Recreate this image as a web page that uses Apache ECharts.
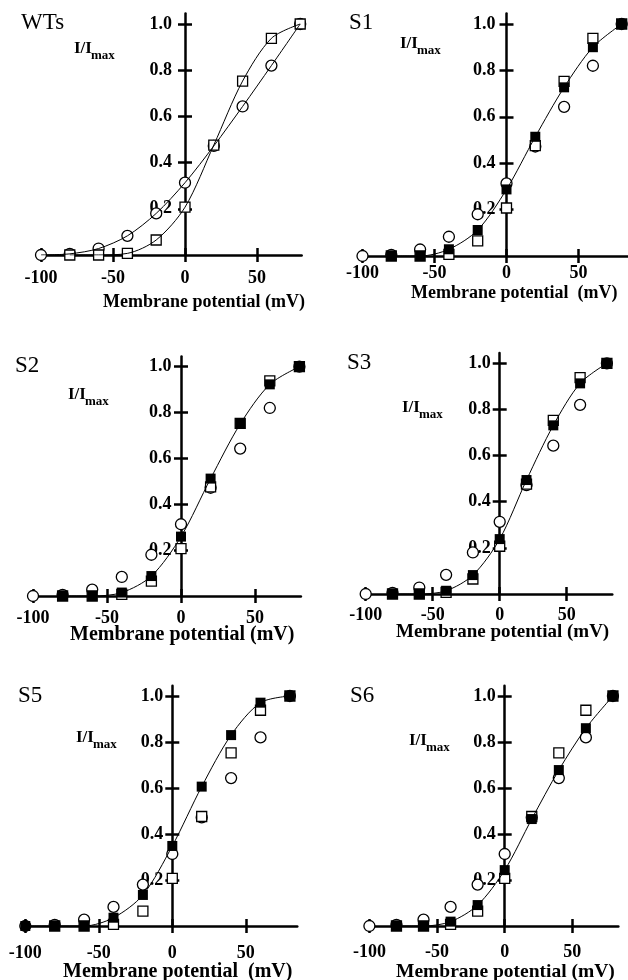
<!DOCTYPE html>
<html><head><meta charset="utf-8">
<script src="https://cdn.jsdelivr.net/npm/echarts@6/dist/echarts.min.js"></script>
<style>html,body{margin:0;padding:0;background:#fff}#c{width:628px;height:980px}</style>
</head><body><div id="c"></div>
<script>
// ---- data ----
const panelNames = ['WTs', 'S1', 'S2', 'S3', 'S5', 'S6'];
const voltages = [-100, -80, -60, -40, -20, 0, 20, 40, 60, 80];
const wtCircle = [0, 0.005, 0.028, 0.083, 0.18, 0.313, 0.472, 0.643, 0.82, 1.0];
const wtSquare = [null, 0, 0, 0.007, 0.065, 0.207, 0.476, 0.753, 0.938, 1.0];
const s1Filled = [null, 0, 0, 0.029, 0.112, 0.287, 0.514, 0.727, 0.9, 1.0];
const s2Filled = [null, 0, 0, 0.015, 0.087, 0.259, 0.512, 0.75, 0.923, 1.0];
const s3Filled = [null, 0, 0, 0.014, 0.082, 0.238, 0.494, 0.731, 0.913, 1.0];
const s5Filled = [0, 0, 0, 0.036, 0.135, 0.348, 0.606, 0.83, 0.971, 1.0];
const s6Filled = [null, 0, 0, 0.019, 0.091, 0.243, 0.465, 0.678, 0.86, 1.0];
const xTickLabels = [-100, -50, 0, 50];
const yTickLabels = [0.2, 0.4, 0.6, 0.8, 1.0];
const xTitle = 'Membrane potential (mV)';
const xTitleWide = 'Membrane potential  (mV)';

const filledByPanel = [null, s1Filled, s2Filled, s3Filled, s5Filled, s6Filled];

// ---- layout / style (positions only) ----
const layout = [
  {x0: 185,   s: 1.44,  y0: 255, y1: 24,    xmax: 81, xm: 14, ym: 13,  lab: [21, 22.5],  imax: [74, 49],   tt: [103, 302, 18, xTitle]},
  {x0: 506.5, s: 1.44,  y0: 256, y1: 24,    xmax: 84, xm: 8,  ym: 11,  lab: [349, 23],   imax: [400, 44],  tt: [411, 293, 18, xTitleWide]},
  {x0: 181,   s: 1.48,  y0: 596, y1: 366.7, xmax: 81, xm: 13, ym: 9.5, lab: [15, 366],   imax: [68, 395],  tt: [70, 635, 20, xTitle]},
  {x0: 499.7, s: 1.34,  y0: 594, y1: 363.3, xmax: 84, xm: 12, ym: 9,   lab: [347, 362.5], imax: [402, 408], tt: [396, 632, 19, xTitle]},
  {x0: 172.3, s: 1.47,  y0: 926, y1: 696,   xmax: 85, xm: 18, ym: 9,   lab: [18, 696],   imax: [76, 738],  tt: [63, 972, 20, xTitleWide]},
  {x0: 504.7, s: 1.353, y0: 926, y1: 696,   xmax: 84, xm: 17, ym: 9,   lab: [350, 696],  imax: [409, 741], tt: [396, 972, 19.5, xTitle]}
];
const XMIN = -102, YMAX = 1.045;
const FONT = '"Liberation Serif", "Times New Roman", serif';

function pairs(arr) {
  const out = [];
  voltages.forEach((v, i) => { if (arr[i] !== null) out.push([v, arr[i]]); });
  return out;
}

const grid = [], xAxis = [], yAxis = [], series = [], graphic = [];
const lineW = 2.5, tickLen = 7, tickW = 2.5;
const labelStyle = {color: '#000', fontFamily: FONT, fontWeight: 'bold', fontSize: 18};

layout.forEach((p, i) => {
  const H = p.y0 - p.y1;
  grid.push({
    left: p.x0 + XMIN * p.s, width: (p.xmax - XMIN) * p.s,
    top: p.y0 - YMAX * H, height: YMAX * H,
    containLabel: false, outerBoundsMode: 'none'
  });
  const xi = 2 * i, yi = 2 * i;
  const lineStyle = {color: '#000', width: lineW};
  const tick = {show: true, length: tickLen, lineStyle: {color: '#000', width: tickW}};
  xAxis.push({
    type: 'value', gridIndex: i, min: XMIN, max: p.xmax, position: 'bottom',
    axisLine: {show: true, onZero: false, lineStyle},
    axisTick: Object.assign({customValues: xTickLabels}, tick),
    axisLabel: Object.assign({show: true, customValues: xTickLabels, margin: p.xm}, labelStyle),
    splitLine: {show: false}
  });
  xAxis.push({
    type: 'value', gridIndex: i, min: XMIN, max: p.xmax, position: 'top',
    offset: -YMAX * H,
    axisLine: {show: false, onZero: false, lineStyle},
    axisTick: Object.assign({customValues: xTickLabels}, tick),
    axisLabel: {show: false},
    splitLine: {show: false}
  });
  yAxis.push({
    type: 'value', gridIndex: i, min: 0, max: YMAX, position: 'left',
    offset: XMIN * p.s,
    axisLine: {show: true, onZero: false, lineStyle},
    axisTick: Object.assign({customValues: yTickLabels}, tick),
    axisLabel: Object.assign({show: true, customValues: yTickLabels, margin: p.ym,
      formatter: v => v.toFixed(1)}, labelStyle),
    splitLine: {show: false}
  });
  yAxis.push({
    type: 'value', gridIndex: i, min: 0, max: YMAX, position: 'right',
    offset: -p.xmax * p.s,
    axisLine: {show: false, onZero: false, lineStyle},
    axisTick: Object.assign({customValues: yTickLabels}, tick),
    axisLabel: {show: false},
    splitLine: {show: false}
  });

  const openItem = {color: '#fff', borderColor: '#000', borderWidth: 1.3, opacity: 1};
  const curve = (arr, z) => ({type: 'line', xAxisIndex: xi, yAxisIndex: yi, data: pairs(arr),
    smooth: 0.3, showSymbol: false, lineStyle: {color: '#000', width: 1}, z});
  const filled = filledByPanel[i];
  series.push({type: 'scatter', xAxisIndex: xi, yAxisIndex: yi, data: pairs(wtCircle),
    symbol: 'circle', symbolSize: 11, itemStyle: openItem, z: 3});
  series.push({type: 'scatter', xAxisIndex: xi, yAxisIndex: yi, data: pairs(wtSquare),
    symbol: 'rect', symbolSize: 10, itemStyle: openItem, z: 4});
  if (filled === null) {
    series.push(curve(wtCircle, 6));
    series.push(curve(wtSquare, 6));
  } else {
    series.push({type: 'scatter', xAxisIndex: xi, yAxisIndex: yi, data: pairs(filled),
      symbol: 'rect', symbolSize: 10, itemStyle: {color: '#000', opacity: 1}, z: 5});
    series.push(curve(filled, 6));
  }

  graphic.push({type: 'text', x: p.lab[0], y: p.lab[1], z: 10,
    style: {text: panelNames[i], fill: '#000', font: '23px ' + FONT, textVerticalAlign: 'middle', textAlign: 'left'}});
  graphic.push({type: 'text', x: p.imax[0], y: p.imax[1], z: 10,
    style: {text: 'I/I', fill: '#000', font: 'bold 17px ' + FONT, textVerticalAlign: 'middle', textAlign: 'left'}});
  graphic.push({type: 'text', x: p.imax[0] + 17, y: p.imax[1] + 7, z: 10,
    style: {text: 'max', fill: '#000', font: 'bold 13px ' + FONT, textVerticalAlign: 'middle', textAlign: 'left'}});
  graphic.push({type: 'text', x: p.tt[0], y: p.tt[1], z: 10,
    style: {text: p.tt[3], fill: '#000', font: 'bold ' + p.tt[2] + 'px ' + FONT, textVerticalAlign: 'middle', textAlign: 'left'}});
});

const chart = echarts.init(document.getElementById('c'), null, {renderer: 'canvas'});
chart.setOption({
  animation: false,
  backgroundColor: '#fff',
  grid, xAxis, yAxis, series, graphic
});
</script>
</body></html>
